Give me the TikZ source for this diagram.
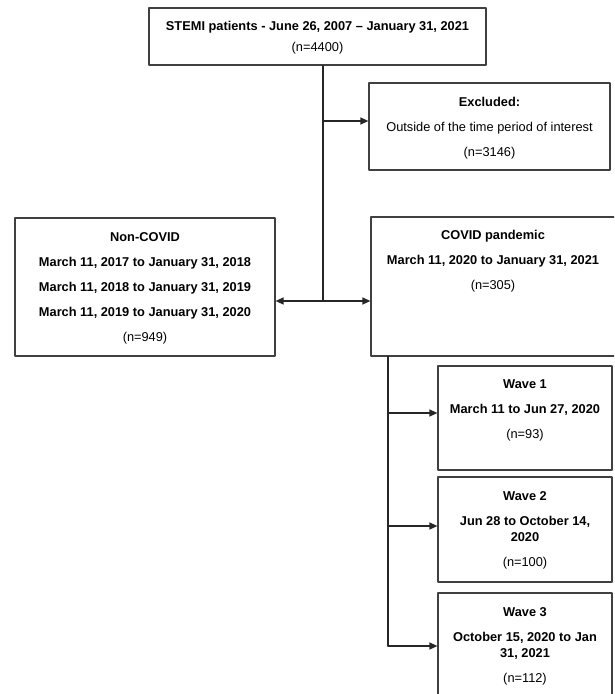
\documentclass[tikz,border=0pt]{standalone}
\usepackage{fontspec}
\setmainfont{Liberation Sans}
\usetikzlibrary{calc}
\usetikzlibrary{arrows.meta}

\begin{document}
\begin{tikzpicture}[line cap=round,line join=round,x=1pt,y=-1pt,>={Triangle[length=8pt,width=7pt]}]
\definecolor{bxgray}{rgb}{0.25,0.25,0.25}
\tikzset{
  flowbox/.style={draw=bxgray,line width=1.2pt,inner sep=0pt},
  flowtext/.style={anchor=north,align=center,inner sep=0pt,font=\fontsize{12.8}{16}\selectfont\bfseries},
  flowline/.style={line width=1.3pt,color=black!85}
}
\useasboundingbox (0,0) rectangle (614,694);
\clip (0,0) rectangle (614,694);
% boxes
\node[flowbox,minimum width=337pt,minimum height=57pt] (stemi) at (317.5,36.5) {};
\node[flowbox,minimum width=241pt,minimum height=87pt] (excl) at (489.5,126.5) {};
\node[flowbox,minimum width=260pt,minimum height=138pt] (noncovid) at (145,287) {};
\node[flowbox,minimum width=245pt,minimum height=139pt] (covid) at (493.5,286.5) {};
\node[flowbox,minimum width=174pt,minimum height=104pt] (wave1) at (525,418) {};
\node[flowbox,minimum width=174pt,minimum height=105pt] (wave2) at (525,529.5) {};
\node[flowbox,minimum width=174pt,minimum height=107pt] (wave3) at (525,646.5) {};
% texts
\node[flowtext] (stemi-txt) at (317.5,21.5) {STEMI patients - June 26, 2007 -- January 31, 2021\\[5pt]\mdseries (n=4400)};
\node[flowtext] (excl-txt) at (489.5,97.5) {Excluded:\\[9pt]\mdseries Outside of the time period of interest\\[9pt]\mdseries (n=3146)};
\node[flowtext] (noncovid-txt) at (145,232.5) {Non-COVID\\[9pt]March 11, 2017 to January 31, 2018\\[9pt]March 11, 2018 to January 31, 2019\\[9pt]March 11, 2019 to January 31, 2020\\[9pt]\mdseries (n=949)};
\node[flowtext] (covid-txt) at (493,230.5) {COVID pandemic\\[9pt]March 11, 2020 to January 31, 2021\\[9pt]\mdseries (n=305)};
\node[flowtext] (wave1-txt) at (525,379.5) {Wave 1\\[9pt]March 11 to Jun 27, 2020\\[9pt]\mdseries (n=93)};
\node[flowtext] (wave2-txt) at (525,491.5) {Wave 2\\[9pt]Jun 28 to October 14,\\2020\\[9pt]\mdseries (n=100)};
\node[flowtext] (wave3-txt) at (525,607.5) {Wave 3\\[9pt]October 15, 2020 to Jan\\31, 2021\\[9pt]\mdseries (n=112)};
% connectors
\coordinate (split) at (323,301);
\coordinate (trunk) at (388,646);
\draw[flowline] (stemi.south -| split) -- (split);
\draw[flowline,->] (split |- {$(excl.west)+(0,-5.5)$}) -- ($(excl.west)+(0,-5.5)$);
\draw[flowline,<->] (noncovid.east |- split) -- (covid.west |- split);
\draw[flowline] (covid.south -| trunk) -- (trunk);
\draw[flowline,->] (trunk |- {$(wave1.west)+(0,-5)$}) -- ($(wave1.west)+(0,-5)$);
\draw[flowline,->] (trunk |- {$(wave2.west)+(0,-3.5)$}) -- ($(wave2.west)+(0,-3.5)$);
\draw[flowline,->] (trunk) -- (trunk -| wave3.west);
\end{tikzpicture}
\end{document}
